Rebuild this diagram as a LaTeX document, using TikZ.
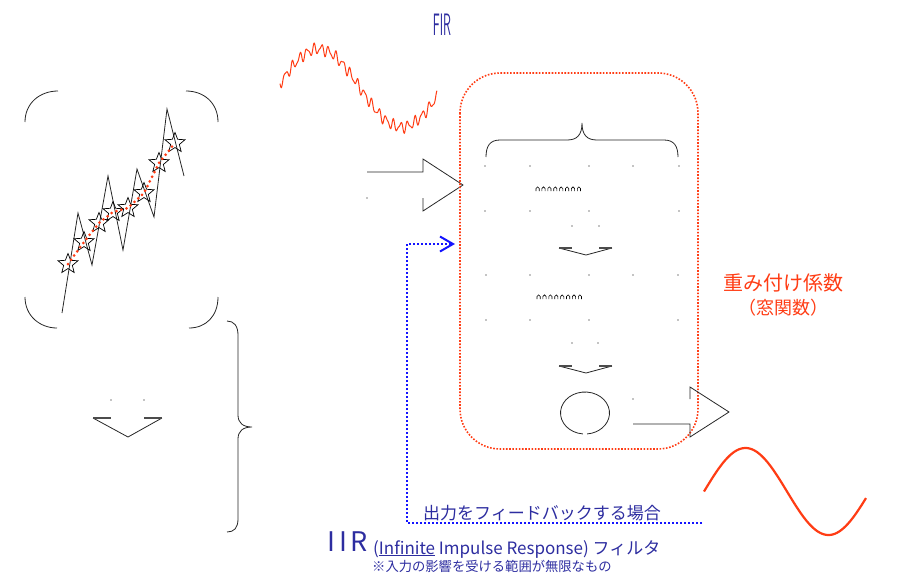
\documentclass[tikz,border=0pt]{standalone}
\usepackage{fontspec}
\usepackage{graphicx}
\setmainfont{Noto Sans CJK JP}
\newfontfamily\jp{Noto Sans CJK JP}
\usetikzlibrary{shapes.geometric,arrows.meta}
\definecolor{ored}{RGB}{255,60,20}
\definecolor{txtblue}{RGB}{45,45,160}
\definecolor{fbblue}{RGB}{20,20,255}
\tikzset{
  ink/.style={draw=black!85,line width=0.8pt},
  stub/.style={draw=black!70,line width=1.3pt},
  pt/.style={fill=black,inner sep=0pt,minimum size=1.3pt,circle},
  starnode/.style={star,star points=5,star point ratio=2.3,minimum size=21pt,inner sep=0pt,draw=black,line width=0.7pt},
  reddots/.style={draw=ored,line width=3pt,line cap=round,dash pattern=on 0pt off 5.2pt},
  boxdots/.style={draw=ored,line width=1.6pt,dash pattern=on 1.6pt off 1.6pt},
  fbline/.style={draw=fbblue,line width=2pt,dash pattern=on 2pt off 2pt},
  wave/.style={draw=ored,line width=1pt},
  sinewave/.style={draw=ored,line width=2.2pt},
}
\begin{document}
\begin{tikzpicture}[x=1pt,y=-1pt]
\useasboundingbox (0,0) rectangle (924,582);

% title FIR
\node[text=txtblue,font=\sffamily\fontsize{31}{31}\selectfont,inner sep=0pt] (fir) at (442,25) {\scalebox{0.42}[1]{FIR}};

% noisy wave
\draw[wave] plot[variable=\t,domain=0:157,samples=500,smooth] ({280+\t},{88-39*sin(2.1687*(\t+3))+4.5*sin(50*\t)+2*sin(81.818*\t)});

% left bracket corners
\draw[ink] (25,122) .. controls (25,103) and (40,91) .. (58,91);
\draw[ink] (186,91) .. controls (204,91) and (218,103) .. (218,122);
\draw[ink] (25,297) .. controls (25,316) and (40,328) .. (57,328);
\draw[ink] (189,328) .. controls (206,328) and (218,316) .. (218,297);

% zigzag
\draw[ink] (62,313) -- (78,213) -- (92,265) -- (108,176) -- (123,250) -- (137,169) -- (154,217) -- (167,109) -- (184,176);

% stars
\foreach \i/\sx/\sy in {1/68/264,2/84/242,3/99/223,4/113/212,5/128/208,6/144/193,7/159/163,8/175/143}
  \node[starnode] (s\i) at (\sx,\sy) {};
\draw[reddots] (s1.center) -- (s2.center) -- (s3.center) -- (s4.center) -- (s5.center) -- (s6.center) -- (s7.center) -- (s8.center);

% vertical brace
\draw[ink] (227,321) .. controls (234,321) and (238,326) .. (238,335) -- (238,415) .. controls (238,423) and (243,427) .. (252,427) .. controls (243,427) and (238,431) .. (238,439) -- (238,519) .. controls (238,528) and (234,532) .. (227,532);

% left down chevron
\draw[ink] (93,418) -- (128,437) -- (162,418);
\draw[stub] (93,418) -- (111,418);
\draw[stub] (144,418) -- (162,418);
\node[pt] (ld1) at (111,400) {};
\node[pt] (ld2) at (144,400) {};

% input block arrow
\draw[ink] (367,172) -- (423,172) -- (423,159) -- (463,185) -- (423,211) -- (423,198);
\node[pt] (ia) at (367,198) {};

% dotted rounded box
\draw[boxdots,rounded corners=40pt] (460,73) rectangle (698,449);

% horizontal brace
\draw[ink] (486,157) .. controls (486,146) and (490,140) .. (500,140) -- (567,140) .. controls (577,140) and (582,135) .. (582,123) .. controls (582,135) and (587,140) .. (597,140) -- (664,140) .. controls (674,140) and (678,146) .. (678,157);

% grid of points, group 1
\foreach \gx in {485,530,589,633,679} \fill (\gx,166) circle (0.7pt);
\foreach \gx in {485,530,589,679} \fill (\gx,211) circle (0.7pt);
\foreach \k in {0,...,7} \draw[line width=0.6pt] ({536+\k*5.9},191) -- ({536+\k*5.9},188.5) arc[start angle=180,end angle=360,radius=1.6] -- ({539.2+\k*5.9},191);
\fill (572,226) circle (0.7pt);
\fill (599,226) circle (0.7pt);
\draw[ink] (559,248) -- (586,255) -- (612,248);
\draw[stub] (559,248) -- (572,248);
\draw[stub] (599,248) -- (612,248);

% group 2
\foreach \gx in {486,530,589,633,678} \fill (\gx,275) circle (0.7pt);
\foreach \gx in {486,530,589,678} \fill (\gx,320) circle (0.7pt);
\foreach \k in {0,...,7} \draw[line width=0.6pt] ({537+\k*5.9},299) -- ({537+\k*5.9},296.5) arc[start angle=180,end angle=360,radius=1.6] -- ({540.2+\k*5.9},299);
\fill (572,343) circle (0.7pt);
\fill (598,343) circle (0.7pt);
\draw[ink] (559,366) -- (586,373) -- (612,366);
\draw[stub] (559,366) -- (572,366);
\draw[stub] (599,366) -- (612,366);

% circle (adder)
\draw[ink] ([shift={(95:24.5 and 21)}]585,413) arc[start angle=95,end angle=445,x radius=24.5,y radius=21];

% output block arrow
\draw[ink] (633,424) -- (690,424) -- (690,437) -- (729,412) -- (690,387) -- (690,399);
\node[pt] (oa) at (633,399) {};

% clean sine
\draw[sinewave] plot[variable=\t,domain=0:162,samples=200,smooth] ({704+\t},{491.5-43.5*sin(2.1687*\t)});

% feedback line
\coordinate (fbR) at (702,523);
\coordinate (fbC) at (407,523);
\coordinate (fbT) at (407,244);
\coordinate (fbE) at (455,244);
\draw[fbline,-{Straight Barb[length=13pt,width=15pt,line width=2pt]}] (fbR) -- (fbC) -- (fbT) -- (fbE);

% texts
\node[text=txtblue,font=\jp\fontsize{17}{17}\selectfont,inner sep=0pt] (fbtxt) at (542,513) {出力をフィードバックする場合};
\node[text=ored,font=\jp\fontsize{20}{20}\selectfont,inner sep=0pt] (w1) at (783,283) {重み付け係数};
\node[text=ored,font=\jp\fontsize{18}{18}\selectfont,inner sep=0pt] (w2) at (783,308) {（窓関数）};
\node[text=txtblue,font=\jp\fontsize{27}{27}\selectfont,inner sep=0pt,anchor=west] (iir) at (327,542) {I\kern4pt I\kern3pt R};
\node[text=txtblue,font=\jp\fontsize{17}{17}\selectfont,inner sep=0pt,anchor=west] (iirsub) at (373,549) {(\underline{Infinite} Impulse Response) フィルタ};
\node[text=txtblue,font=\jp\fontsize{13.3}{13.3}\selectfont,inner sep=0pt,anchor=west] (note) at (372,566) {※入力の影響を受ける範囲が無限なもの};
\end{tikzpicture}
\end{document}
